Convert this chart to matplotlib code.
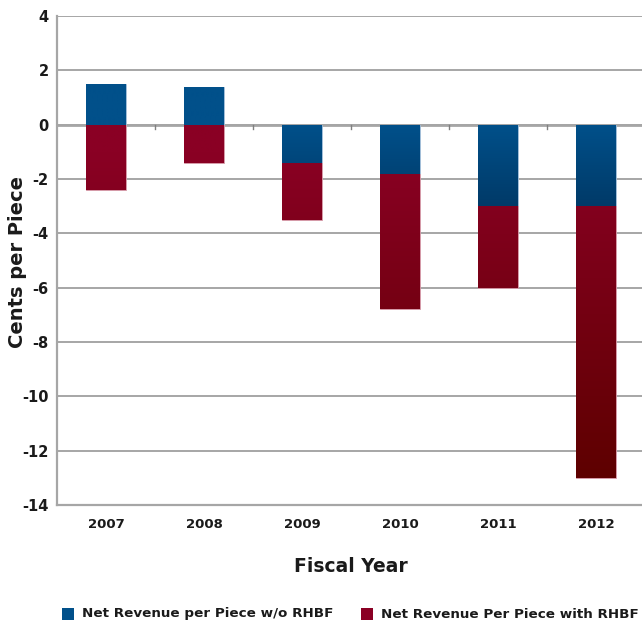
import numpy as np
import matplotlib
matplotlib.use("Agg")
import matplotlib.pyplot as plt
from matplotlib.colors import LinearSegmentedColormap, Normalize
from matplotlib.patches import Rectangle

years = ["2007", "2008", "2009", "2010", "2011", "2012"]
without_rhbf = [1.5, 1.4, -1.4, -1.8, -3.0, -3.0]
rhbf_effect = [-2.4, -1.4, -2.1, -5.0, -3.0, -10.0]
yticks = [4, 2, 0, -2, -4, -6, -8, -10, -12, -14]

series_labels = ["Net Revenue per Piece w/o RHBF", "Net Revenue Per Piece with RHBF"]

plt.rcParams["font.family"] = ["DejaVu Sans"]

fig = plt.figure(figsize=(6.42, 6.30), dpi=100)
ax = fig.add_axes([57 / 642, 1 - 505 / 630, 588 / 642, 489 / 630])

x = np.arange(len(years))
width = 0.4

blue_cmap = LinearSegmentedColormap.from_list("blue_fade", ["#003a68", "#01508a"])
red_cmap = LinearSegmentedColormap.from_list("red_fade", ["#5e0000", "#8a0024"])
blue_norm = Normalize(vmin=-3.0, vmax=0.0, clip=True)
red_norm = Normalize(vmin=-13.0, vmax=-1.0, clip=True)

bars_blue = ax.bar(x, without_rhbf, width, color="#01508a",
                   edgecolor="#a9c3dc", linewidth=0.6, zorder=3)
red_bottom = [min(v, 0.0) for v in without_rhbf]
bars_red = ax.bar(x, rhbf_effect, width, bottom=red_bottom, color="#8a0024",
                  edgecolor="#d9a0ad", linewidth=0.6, zorder=3)

# vertical colour fade inside each bar, shaded by value
ygrid = np.linspace(-14, 4, 400).reshape(-1, 1)
for bars, cmap, norm in [(bars_blue, blue_cmap, blue_norm), (bars_red, red_cmap, red_norm)]:
    for b in bars:
        x0 = b.get_x()
        im = ax.imshow(ygrid, cmap=cmap, norm=norm, origin="lower", aspect="auto",
                       extent=[x0, x0 + b.get_width(), -14, 4], zorder=3.5,
                       interpolation="bilinear")
        im.set_clip_path(b)

ax.set_xlim(-0.5, len(years) - 0.5)
ax.set_ylim(-14, 4)
ax.set_yticks(yticks)
ax.set_yticklabels([str(t) for t in yticks])
ax.set_xticks(x)
ax.set_xticklabels(years)

grid_color = "#8e8e8e"
for t in yticks:
    ax.axhline(t, color=grid_color, linewidth=1.1, zorder=1)
ax.axhline(0, color="#a6a6a6", linewidth=2.0, zorder=2)
# category separator ticks on the zero line
for b in np.arange(0.5, len(years) - 0.5, 1.0):
    ax.plot([b, b], [0, -0.15], color="#808080", linewidth=1.0, zorder=2)

for side in ["top", "right"]:
    ax.spines[side].set_visible(False)
for side in ["left", "bottom"]:
    ax.spines[side].set_color("#a6a6a6")
    ax.spines[side].set_linewidth(1.6)

ax.tick_params(axis="both", length=0)
ax.tick_params(axis="y", pad=6)
ax.tick_params(axis="x", pad=9)
for lab in ax.get_yticklabels():
    lab.set_fontsize(10.5)
    lab.set_fontweight("bold")
    lab.set_color("#1a1a1a")
for lab in ax.get_xticklabels():
    lab.set_fontsize(9.5)
    lab.set_fontweight("bold")
    lab.set_color("#1a1a1a")

fig.text(18 / 642, 1 - 262 / 630, "Cents per Piece", rotation=90, ha="center", va="center",
         fontsize=14, fontweight="bold", color="#1a1a1a")
fig.text(351 / 642, 1 - 567 / 630, "Fiscal Year", ha="center", va="center",
         fontsize=13.5, fontweight="bold", color="#1a1a1a")

# legend row
sq = 12
for (sx, tx), lab, c in zip([(62, 82), (361, 381)], series_labels, ["#01508a", "#8a0024"]):
    fig.patches.append(Rectangle((sx / 642, 1 - 620 / 630), sq / 642, sq / 630,
                                 transform=fig.transFigure, facecolor=c, edgecolor="none"))
    fig.text(tx / 642, 1 - 614 / 630, lab, ha="left", va="center",
             fontsize=9.7, color="#1a1a1a", fontweight="bold")

fig.savefig("out.png", dpi=100)
